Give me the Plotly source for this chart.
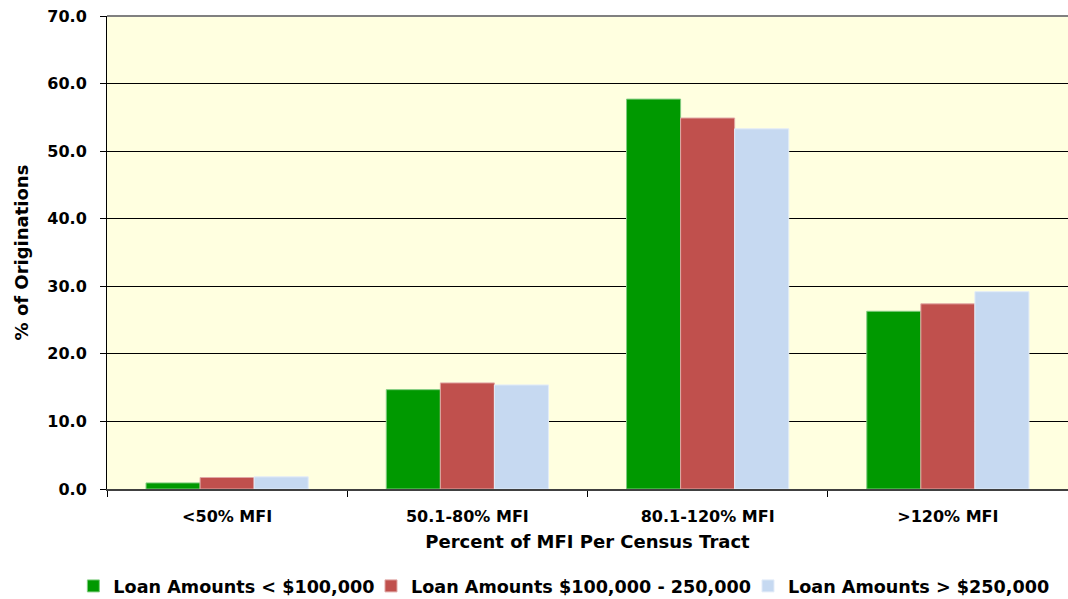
import plotly.graph_objects as go

categories = ["<50% MFI", "50.1-80% MFI", "80.1-120% MFI", ">120% MFI"]
series_names = ["Loan Amounts < $100,000", "Loan Amounts $100,000 - 250,000", "Loan Amounts > $250,000"]
under_100k = [0.9, 14.7, 57.7, 26.3]
from_100k_250k = [1.7, 15.7, 54.9, 27.4]
over_250k = [1.8, 15.4, 53.3, 29.2]
y_ticks = [0, 10, 20, 30, 40, 50, 60, 70]

colors = ["#009900", "#C0504D", "#C6D9F1"]
edges = ["#7fcc7f", "#e0a8a6", "#e3ecf8"]
legend_ids = ["legend", "legend2", "legend3"]
legend_x = [-0.035, 0.2747, 0.667]

font_family = "DejaVu Sans, Arial, sans-serif"

fig = go.Figure()
for name, vals, c, e, lg in zip(series_names, [under_100k, from_100k_250k, over_250k], colors, edges, legend_ids):
    fig.add_trace(go.Bar(
        x=categories, y=vals, name=name, legend=lg,
        marker=dict(color=c, line=dict(color=e, width=1)),
    ))

legend_style = dict(
    orientation="h", xanchor="left", y=-0.205, yanchor="middle",
    font=dict(size=17.6, family=font_family, weight="bold"),
    itemwidth=30, bgcolor="rgba(0,0,0,0)", borderwidth=0,
)

fig.update_layout(
    width=1068, height=599,
    margin=dict(l=107, r=0, t=16, b=110, autoexpand=False),
    paper_bgcolor="white",
    plot_bgcolor="#FFFFE0",
    barmode="group",
    bargap=0.325,
    bargroupgap=0,
    font=dict(family=font_family, size=16, color="black"),
    showlegend=True,
    legend=dict(x=legend_x[0], **legend_style),
    legend2=dict(x=legend_x[1], **legend_style),
    legend3=dict(x=legend_x[2], **legend_style),
)

fig.update_xaxes(
    showline=True, linecolor="#404040", linewidth=2,
    ticks="outside", tickson="boundaries", ticklen=6, tickcolor="black",
    ticklabelstandoff=12,
    tickfont=dict(size=16, weight="bold"),
    title=dict(text="Percent of MFI Per Census Tract", font=dict(size=18, weight="bold"), standoff=10),
    showgrid=False,
)
fig.update_yaxes(
    range=[0, 70], tickvals=y_ticks, tickformat=".1f",
    showgrid=True, gridcolor="black", gridwidth=1,
    showline=True, linecolor="black", linewidth=1,
    ticks="outside", ticklen=6, tickcolor="black",
    ticklabelstandoff=10,
    tickfont=dict(size=16, weight="bold"),
    title=dict(text="% of Originations", font=dict(size=18, weight="bold"), standoff=14),
    zeroline=False,
)

# Gray frame line along the top of the plotting area
fig.add_shape(type="line", xref="paper", yref="paper", x0=0, x1=1, y0=1, y1=1,
              line=dict(color="#808080", width=2))

fig.write_html("out.html")
